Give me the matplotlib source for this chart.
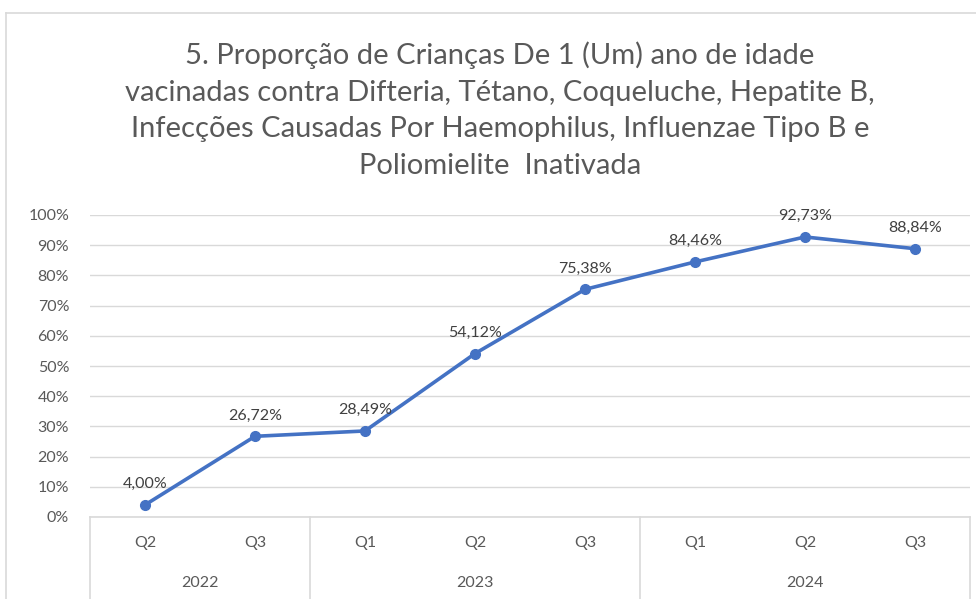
import matplotlib.pyplot as plt
from matplotlib.lines import Line2D
from matplotlib.ticker import FuncFormatter

quarters = ["Q2", "Q3", "Q1", "Q2", "Q3", "Q1", "Q2", "Q3"]
years = ["2022", "2023", "2024"]
year_sizes = [2, 3, 3]
values = [4.00, 26.72, 28.49, 54.12, 75.38, 84.46, 92.73, 88.84]
title = ("5. Proporção de Crianças De 1 (Um) ano de idade\n"
         "vacinadas contra Difteria, Tétano, Coqueluche, Hepatite B,\n"
         "Infecções Causadas Por Haemophilus, Influenzae Tipo B e\n"
         "Poliomielite  Inativada")

plt.rcParams['font.family'] = ['Lato', 'DejaVu Sans']

W, H = 976, 599
fig = plt.figure(figsize=(W / 100, H / 100), dpi=100)
ax = fig.add_axes([90 / W, 1 - 517 / H, 880 / W, 302 / H])

grid_c = "#d9d9d9"
text_c = "#595959"

# outer chart border (cropped)
fig.add_artist(Line2D([6 / W, 1], [1 - 13 / H, 1 - 13 / H], color=grid_c, lw=1.2))
fig.add_artist(Line2D([6 / W, 6 / W], [0, 1 - 13 / H], color=grid_c, lw=1.2))

x = list(range(len(values)))
frac = [v / 100 for v in values]
ax.plot(x, frac, color="#4472C4", lw=2.6, marker="o", ms=7, zorder=3)

for xi, v in zip(x, values):
    ax.annotate(f"{v:.2f}%".replace(".", ","), (xi, v / 100), xytext=(0, 10),
                textcoords="offset points", ha="center", va="bottom",
                fontsize=11.5, color="#404040")

ax.set_xlim(-0.5, len(values) - 0.5)
ax.set_ylim(0, 1)
ax.set_yticks([i / 10 for i in range(11)])
ax.yaxis.set_major_formatter(FuncFormatter(lambda v, p: f"{v * 100:.0f}%"))
ax.tick_params(axis="y", length=0, pad=15, labelsize=11.5, labelcolor=text_c)
ax.set_xticks([])
ax.grid(axis="y", color=grid_c, lw=1)
for s in ["top", "right", "left"]:
    ax.spines[s].set_visible(False)
ax.spines["bottom"].set_color(grid_c)
ax.spines["bottom"].set_linewidth(1.2)

# multi-level category axis
tr = ax.get_xaxis_transform()
for xi, q in zip(x, quarters):
    ax.text(xi, -0.086, q, transform=tr, ha="center", va="center",
            fontsize=11.5, color=text_c)
start = 0
bounds = [-0.5]
for yr, n in zip(years, year_sizes):
    ax.text(start + (n - 1) / 2, -0.218, yr, transform=tr, ha="center",
            va="center", fontsize=11.5, color=text_c)
    start += n
    bounds.append(start - 0.5)
for b in bounds:
    ax.plot([b, b], [0, -0.3], transform=tr, color=grid_c, lw=1.2, clip_on=False)

fig.text(500 / W, 1 - 110 / H, title, ha="center", va="center", fontsize=21,
         color=text_c, linespacing=1.5)

fig.savefig("out.png", dpi=100)
